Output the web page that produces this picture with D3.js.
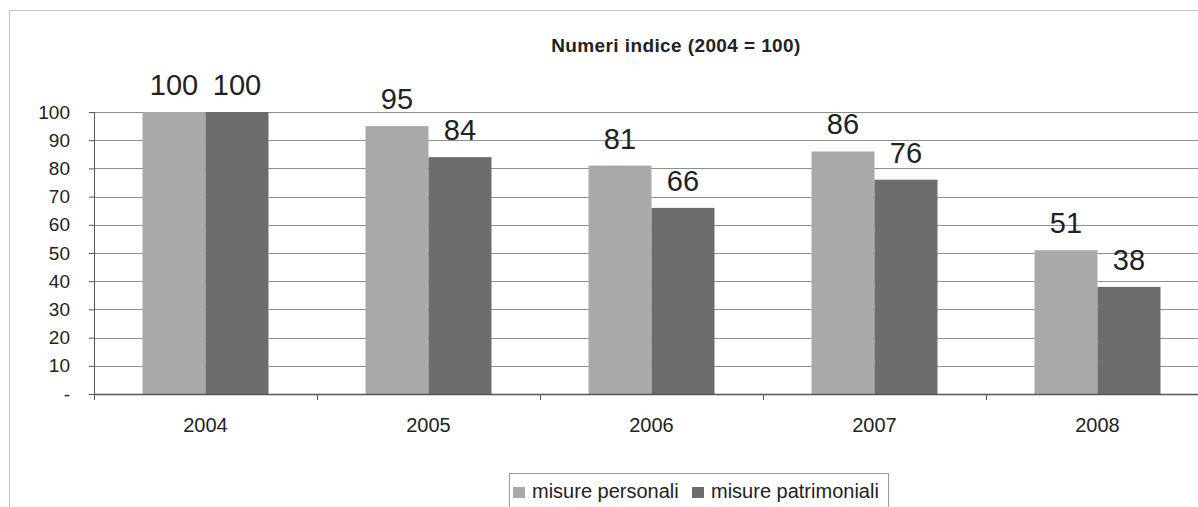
<!DOCTYPE html>
<html>
<head>
<meta charset="utf-8">
<script src="https://cdn.jsdelivr.net/npm/d3@7"></script>
<style>
  body { margin: 0; background: #fff; }
  svg { display: block; font-family: "Liberation Sans", Arial, sans-serif; }
</style>
</head>
<body>
<svg id="chart" width="1198" height="507"></svg>
<script>
// Dati
const years = ["2004", "2005", "2006", "2007", "2008"];
const seriesNames = ["misure personali", "misure patrimoniali"];
const personali = [100, 95, 81, 86, 51];
const patrimoniali = [100, 84, 66, 76, 38];
const yTicks = [0, 10, 20, 30, 40, 50, 60, 70, 80, 90, 100];

const colors = ["#a9a9a9", "#6c6c6c"];

const svg = d3.select("#chart");
const margin = { left: 94, top: 112, bottom: 394 };
const step = 223;

// Bordo del grafico
svg.append("rect")
    .attr("x", 9.5).attr("y", 10.5)
    .attr("width", 1400).attr("height", 800)
    .attr("fill", "none")
    .attr("stroke", "#c4c4c4");

const x = d3.scaleBand()
    .domain(years)
    .range([margin.left, margin.left + step * years.length])
    .padding(0);

const xInner = d3.scaleBand()
    .domain(seriesNames)
    .range([0, 126])
    .padding(0);

const y = d3.scaleLinear()
    .domain([0, 100])
    .range([margin.bottom, margin.top]);

// Griglia
svg.append("g")
    .selectAll("line")
    .data(yTicks.filter(d => d > 0))
    .enter()
    .append("line")
    .attr("x1", margin.left).attr("x2", 1198)
    .attr("y1", d => Math.round(y(d)) + 0.5)
    .attr("y2", d => Math.round(y(d)) + 0.5)
    .attr("stroke", "#8f8f8f")
    .attr("stroke-width", 1);

// Asse Y
const yAxis = d3.axisLeft(y)
    .tickValues(yTicks)
    .tickSize(5)
    .tickFormat(d => d === 0 ? "-" : d);

svg.append("g")
    .attr("transform", `translate(${margin.left},0)`)
    .call(yAxis)
    .call(g => g.select(".domain").attr("stroke", "#555"))
    .call(g => g.selectAll(".tick line").attr("stroke", "#555"))
    .call(g => g.selectAll("text")
        .attr("x", -24)
        .style("font-size", "19px")
        .attr("fill", "#222"));

// Barre
const groups = svg.append("g")
    .selectAll("g")
    .data(years)
    .enter()
    .append("g")
    .attr("transform", d => `translate(${x(d) + (x.bandwidth() - 126) / 2},0)`);

const seriesData = [personali, patrimoniali];

groups.selectAll("rect")
    .data((d, i) => seriesNames.map((s, j) => ({ s, v: seriesData[j][i] })))
    .enter()
    .append("rect")
    .attr("x", d => xInner(d.s))
    .attr("width", xInner.bandwidth())
    .attr("y", d => y(d.v))
    .attr("height", d => y(0) - y(d.v))
    .attr("fill", (d, j) => colors[j]);

// Etichette valori
groups.selectAll("text")
    .data((d, i) => seriesNames.map((s, j) => ({ s, v: seriesData[j][i] })))
    .enter()
    .append("text")
    .attr("x", d => xInner(d.s) + xInner.bandwidth() / 2)
    .attr("y", d => y(d.v) - 17)
    .attr("text-anchor", "middle")
    .style("font-size", "29px")
    .attr("fill", "#222")
    .text(d => d.v);

// Asse X
const xAxis = d3.axisBottom(x).tickSize(0).tickFormat(d => d);
svg.append("g")
    .attr("transform", `translate(0,${margin.bottom})`)
    .call(xAxis)
    .call(g => g.select(".domain").attr("stroke", "#555").attr("stroke-width", 1.5))
    .call(g => g.selectAll("text")
        .attr("dy", null)
        .attr("y", 38)
        .style("font-size", "20px")
        .attr("fill", "#222"));

// Tacche tra le categorie
svg.append("g")
    .selectAll("line")
    .data(years)
    .enter()
    .append("line")
    .attr("x1", d => x(d) + 0.5).attr("x2", d => x(d) + 0.5)
    .attr("y1", margin.bottom).attr("y2", margin.bottom + 6)
    .attr("stroke", "#555");

// Titolo
svg.append("text")
    .attr("x", 676).attr("y", 52)
    .attr("text-anchor", "middle")
    .style("font-size", "19px")
    .style("font-weight", "bold")
    .style("letter-spacing", "0.4px")
    .attr("fill", "#222")
    .text("Numeri indice (2004 = 100)");

// Legenda
const legend = svg.append("g").attr("transform", "translate(509,473)");
legend.append("rect")
    .attr("x", 0.5).attr("y", 0.5)
    .attr("width", 379).attr("height", 40)
    .attr("fill", "#fff")
    .attr("stroke", "#9a9a9a");

const legendX = [4, 183];
const items = legend.selectAll("g")
    .data(seriesNames)
    .enter()
    .append("g")
    .attr("transform", (d, i) => `translate(${legendX[i]},0)`);

items.append("rect")
    .attr("x", 0).attr("y", 14)
    .attr("width", 12).attr("height", 11)
    .attr("fill", (d, i) => colors[i]);

items.append("text")
    .attr("x", 19).attr("y", 25)
    .style("font-size", "20px")
    .attr("fill", "#222")
    .text(d => d);
</script>
</body>
</html>
